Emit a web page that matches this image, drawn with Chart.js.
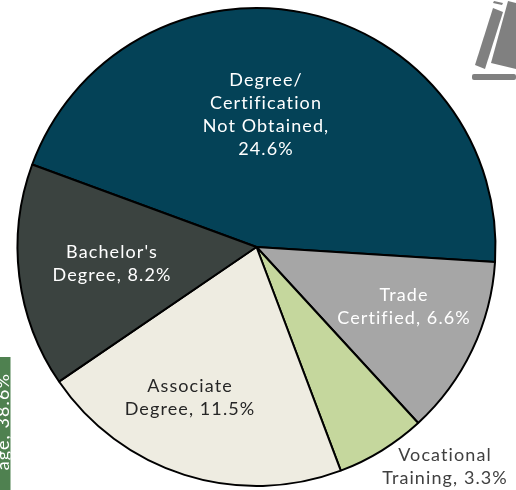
<!DOCTYPE html>
<html>
<head>
<meta charset="utf-8">
<style>
  html, body { margin: 0; padding: 0; background: #fff; }
  #wrap { position: relative; width: 516px; height: 490px; overflow: hidden; }
</style>
<script src="https://cdn.jsdelivr.net/npm/chart.js@4"></script>
</head>
<body>
<div id="wrap"><canvas id="pie" width="516" height="490"></canvas></div>
<script>
const labels = ["Degree/\nCertification\nNot Obtained,\n24.6%", "Trade\nCertified, 6.6%", "Vocational\nTraining, 3.3%", "Associate\nDegree, 11.5%", "Bachelor's\nDegree, 8.2%"];
const values = [24.6, 6.6, 3.3, 11.5, 8.2];
const sliceColors = ["#044257", "#a6a6a6", "#c5d79d", "#eeece1", "#3b4340"];
const labelColors = ["#ffffff", "#ffffff", "#404040", "#262626", "#ffffff"];
const sideLabel = "age, 38.6%";

const fontName = "Lato, sans-serif";
const labelFont = "400 18px " + fontName;

// label centres
const labelAnchors = [[266, 114.5], [404, 307], [445, 467], [190, 398], [112, 264]];

const sliceLabels = {
    id: "sliceLabels",
    afterDatasetsDraw(chart) {
        const c = chart.ctx;
        c.save();
        c.font = labelFont;
        c.letterSpacing = "1.1px";
        c.textAlign = "center";
        c.textBaseline = "middle";
        labels.forEach(function(label, i) {
            const lines = label.split("\n");
            lines.forEach(function(line, j) {
                c.fillStyle = labelColors[i];
                c.fillText(line, labelAnchors[i][0], labelAnchors[i][1] + (j - (lines.length - 1) / 2) * 23);
            });
        });
        c.restore();
    }
};

// green side label and the book icon that sit around the pie
const extras = {
    id: "extras",
    afterDraw(chart) {
        const c = chart.ctx;
        c.save();
        c.fillStyle = "#4f8150";
        c.fillRect(0, 357, 10.5, 133);
        c.beginPath();
        c.rect(0, 357, 10.5, 133);
        c.clip();
        c.translate(8.5, 373);
        c.rotate(-Math.PI / 2);
        c.fillStyle = "#ffffff";
        c.font = labelFont;
        c.letterSpacing = "1.1px";
        c.textAlign = "right";
        c.textBaseline = "alphabetic";
        c.fillText(sideLabel, 0, 0);
        c.restore();

        c.save();
        c.fillStyle = "#808080";
        c.beginPath();
        c.roundRect(472, 74, 44, 6, 2);
        c.fill();
        c.beginPath();
        c.moveTo(493, 8); c.lineTo(503, 12); c.lineTo(485, 69); c.lineTo(475, 65); c.closePath();
        c.fill();
        c.beginPath();
        c.moveTo(494, 1); c.lineTo(503, 3); c.lineTo(502, 5); c.lineTo(493, 3); c.closePath();
        c.fill();
        c.beginPath();
        c.moveTo(508, 1); c.lineTo(516, 3); c.lineTo(516, 69); c.lineTo(491, 63); c.closePath();
        c.fill();
        c.restore();
    }
};

new Chart(document.getElementById("pie"), {
    type: "pie",
    data: {
        labels: labels,
        datasets: [{
            data: values,
            backgroundColor: sliceColors,
            borderColor: "#000000",
            borderWidth: 2
        }]
    },
    options: {
        responsive: false,
        animation: false,
        rotation: 290.2,
        radius: 239,
        layout: { padding: { right: 3, top: 4 } },
        plugins: { legend: { display: false }, tooltip: { enabled: false } }
    },
    plugins: [sliceLabels, extras]
});
</script>
</body>
</html>
